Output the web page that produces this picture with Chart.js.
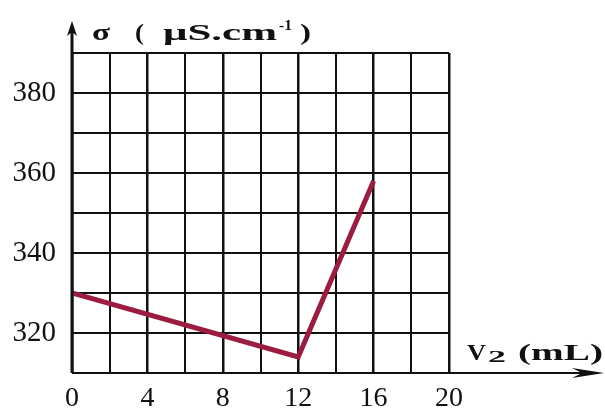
<!DOCTYPE html>
<html>
<head>
<meta charset="utf-8">
<script src="https://cdn.jsdelivr.net/npm/chart.js@4/dist/chart.umd.min.js"></script>
<style>
  html, body { margin: 0; padding: 0; background: #fff; }
  #wrap { width: 605px; height: 408px; }
</style>
</head>
<body>
<div id="wrap"><canvas id="chart" width="605" height="408"></canvas></div>
<script>
// data
const volumes = [0, 12, 16];          // V2 (mL)
const conductivity = [330, 314, 358]; // sigma (uS/cm)
const xTickLabels = [0, 4, 8, 12, 16, 20];
const yTickLabels = [320, 340, 360, 380];

const serif = "'Liberation Serif', 'Times New Roman', serif";
const ink = '#111';

// draw a piece of text stretched to a given width (the scan's lettering is wide)
function wideText(ctx, text, x, baseline, font, width) {
    ctx.font = font;
    const w = ctx.measureText(text).width;
    ctx.save();
    ctx.translate(x, baseline);
    ctx.scale(width / w, 1);
    ctx.fillText(text, 0, 0);
    ctx.restore();
}

// axis arrows and axis titles
const axesDecor = {
    id: 'axesDecor',
    afterDraw: function(chart) {
        const ctx = chart.ctx;
        const area = chart.chartArea;
        ctx.save();
        ctx.strokeStyle = ink;
        ctx.fillStyle = ink;
        ctx.lineWidth = 3;

        // y axis with arrow
        ctx.beginPath();
        ctx.moveTo(area.left, area.bottom);
        ctx.lineTo(area.left, 30);
        ctx.stroke();
        ctx.beginPath();
        ctx.moveTo(area.left, 21);
        ctx.lineTo(area.left - 5, 36);
        ctx.lineTo(area.left, 32);
        ctx.lineTo(area.left + 5, 36);
        ctx.closePath();
        ctx.fill();

        // x axis with arrow
        ctx.lineWidth = 2;
        ctx.beginPath();
        ctx.moveTo(area.left, area.bottom);
        ctx.lineTo(590, area.bottom);
        ctx.stroke();
        ctx.beginPath();
        ctx.moveTo(604, area.bottom);
        ctx.lineTo(572, area.bottom - 5);
        ctx.lineTo(582, area.bottom);
        ctx.lineTo(572, area.bottom + 5);
        ctx.closePath();
        ctx.fill();

        // y title
        ctx.textBaseline = 'alphabetic';
        ctx.textAlign = 'left';
        const big = 'bold 23px ' + serif;
        wideText(ctx, 'σ', 92, 40, big, 18);
        wideText(ctx, '(', 135, 40, big, 9);
        wideText(ctx, 'μS.cm', 163, 40, big, 114);
        wideText(ctx, '-1', 279, 30, 'bold 14px ' + serif, 13);
        wideText(ctx, ')', 300, 40, big, 11);

        // x title
        wideText(ctx, 'V', 467, 360, big, 19);
        wideText(ctx, '2', 488, 362, 'bold 17px ' + serif, 18);
        wideText(ctx, '(mL)', 518, 360, big, 85);
        ctx.restore();
    }
};

new Chart(document.getElementById('chart'), {
    type: 'line',
    data: {
        datasets: [{
            data: volumes.map((v, i) => ({ x: v, y: conductivity[i] })),
            borderColor: '#9b1c40',
            borderWidth: 5,
            pointRadius: 0,
            tension: 0,
            fill: false
        }]
    },
    options: {
        responsive: false,
        animation: false,
        layout: { padding: { left: 0, top: 53, right: 156, bottom: 0 } },
        plugins: { legend: { display: false }, tooltip: { enabled: false } },
        scales: {
            x: {
                type: 'linear',
                min: 0,
                max: 20,
                afterFit: function(scale) { scale.height = 35; },
                border: { display: false },
                grid: {
                    color: ink,
                    lineWidth: ctx => xTickLabels.includes(ctx.tick && ctx.tick.value) ? 2.5 : 2,
                    drawTicks: false
                },
                ticks: {
                    stepSize: 2,
                    padding: 9,
                    color: ink,
                    font: { family: serif, size: 28 },
                    callback: v => xTickLabels.includes(v) ? String(v) : ''
                }
            },
            y: {
                min: 310,
                max: 390,
                afterFit: function(scale) { scale.width = 72; },
                border: { display: false },
                grid: { color: ink, lineWidth: 2, drawTicks: false },
                ticks: {
                    stepSize: 10,
                    padding: 16,
                    color: ink,
                    font: { family: serif, size: 29 },
                    callback: v => yTickLabels.includes(v) ? String(v) : ''
                }
            }
        }
    },
    plugins: [axesDecor]
});
</script>
</body>
</html>
